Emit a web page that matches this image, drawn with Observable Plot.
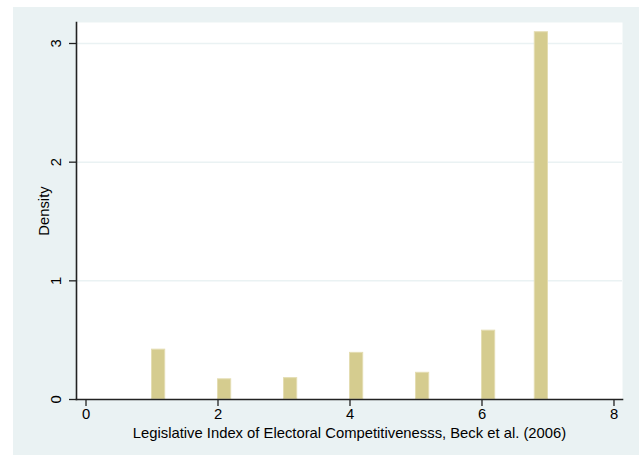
<!DOCTYPE html>
<html>
<head>
<meta charset="utf-8">
<script src="https://cdn.jsdelivr.net/npm/d3@7"></script>
<script src="https://cdn.jsdelivr.net/npm/@observablehq/plot@0.6"></script>
<style>
  html, body { margin: 0; padding: 0; background: #ffffff; }
  #chart { position: absolute; left: 13px; top: 7px; }
  #chart svg { background: #eaf2f3; display: block; }
</style>
</head>
<body>
<div id="chart"></div>
<script>
// Histogram bins (start, end) and their densities
const binStart = [1, 2, 3, 4, 5, 6, 6.8];
const binEnd   = [1.2, 2.2, 3.2, 4.2, 5.2, 6.2, 7.0];
const density  = [0.42, 0.17, 0.18, 0.393, 0.225, 0.58, 3.095];

const xTicks = [0, 2, 4, 6, 8];
const yTicks = [0, 1, 2, 3];
const xTitle = "Legislative Index of Electoral Competitivenesss, Beck et al. (2006)";
const yTitle = "Density";

const bins = binStart.map((s, i) => ({x1: s, x2: binEnd[i], y: density[i]}));

const fontFamily = "'Liberation Sans', Arial, Helvetica, sans-serif";
const fs = 14.8;

const chart = Plot.plot({
  width: 626,
  height: 448,
  marginLeft: 63,
  marginRight: 17,
  marginTop: 15,
  marginBottom: 56,
  style: {fontFamily, fontSize: fs + "px", color: "#000", background: "#eaf2f3"},
  x: {domain: [-0.144, 8.129]},
  y: {domain: [0, 3.177]},
  marks: [
    Plot.frame({fill: "#ffffff", stroke: "none"}),
    Plot.gridY([1, 2, 3], {stroke: "#eaf2f3", strokeOpacity: 1, strokeWidth: 1.5}),
    Plot.rectY(bins, {
      x1: "x1", x2: "x2", y: "y",
      fill: "#d5cc8f", stroke: "#e4ddb2", strokeWidth: 1, inset: 0
    }),
    Plot.axisX({ticks: xTicks, tickSize: 7, tickPadding: 2, stroke: "#222", strokeWidth: 1.3,
      fontSize: fs, fill: "#000", label: null}),
    Plot.axisY({ticks: yTicks, tickSize: 7, tickFormat: () => "", stroke: "#222", strokeWidth: 1.3, label: null}),
    Plot.text(yTicks, {y: d => d, text: d => String(d), frameAnchor: "left", dx: -20,
      rotate: -90, textAnchor: "middle", lineAnchor: "middle", fontSize: fs, fill: "#000"}),
    Plot.frame({anchor: "left", stroke: "#222", strokeWidth: 1.6}),
    Plot.frame({anchor: "bottom", stroke: "#222", strokeWidth: 1.6}),
    Plot.text([xTitle], {frameAnchor: "bottom", dy: 34, lineAnchor: "middle", fontSize: fs, fill: "#000"}),
    Plot.text([yTitle], {frameAnchor: "left", dx: -32, rotate: -90, textAnchor: "middle",
      lineAnchor: "middle", fontSize: fs, fill: "#000"})
  ]
});

document.getElementById("chart").appendChild(chart);
</script>
</body>
</html>
